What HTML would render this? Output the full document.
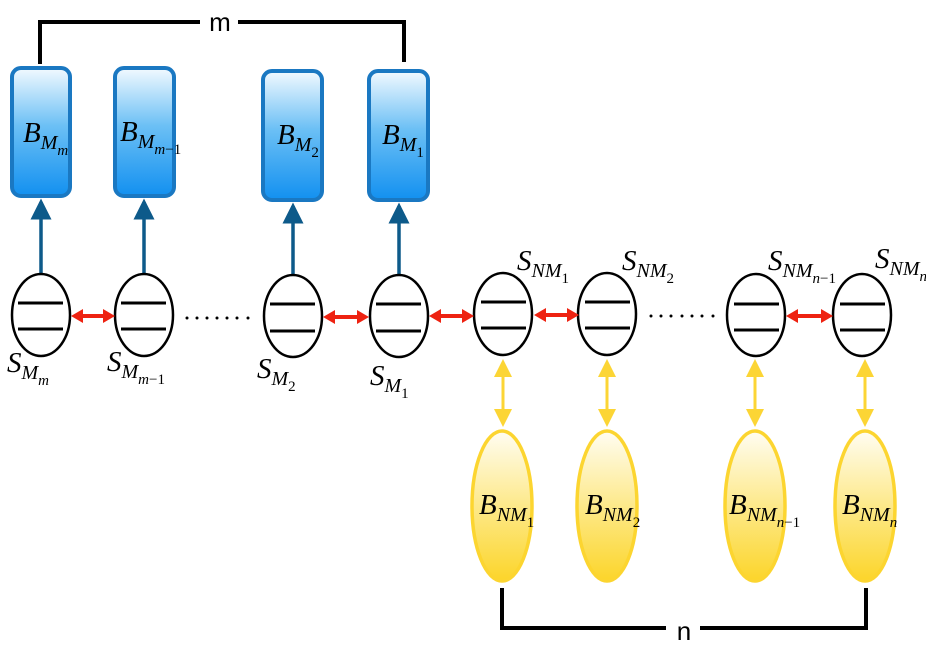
<!DOCTYPE html>
<html><head><meta charset="utf-8"><style>
html,body{margin:0;padding:0;background:#fff;}
svg{display:block;}
text{font-family:"Liberation Serif",serif;font-style:italic;fill:#000;}
.lab{font-size:29px;}
.s1{font-size:20px;}
.s2{font-size:15px;}
.up{font-style:normal;}
</style></head><body>
<svg width="926" height="654" viewBox="0 0 926 654" xmlns="http://www.w3.org/2000/svg">
<defs>
<linearGradient id="gb" x1="0" y1="0" x2="0" y2="1">
<stop offset="0" stop-color="#f2faff"/><stop offset="0.45" stop-color="#6cc0f5"/><stop offset="1" stop-color="#1290f0"/>
</linearGradient>
<linearGradient id="gy" x1="0" y1="0" x2="0" y2="1">
<stop offset="0" stop-color="#fffdf2"/><stop offset="0.5" stop-color="#fde98a"/><stop offset="1" stop-color="#fcd52a"/>
</linearGradient>
<marker id="ab" markerWidth="6" markerHeight="6" refX="5" refY="3" orient="auto" markerUnits="strokeWidth"><path d="M0,0 L6,3 L0,6z" fill="#0d5a8a"/></marker>
<marker id="ay" markerWidth="6" markerHeight="6" refX="5" refY="3" orient="auto-start-reverse" markerUnits="strokeWidth"><path d="M0,0 L6,3 L0,6z" fill="#fcd535"/></marker>
</defs>
<polyline points="40,64 40,22 200,22" fill="none" stroke="#000" stroke-width="4"/>
<polyline points="238,22 404,22 404,62" fill="none" stroke="#000" stroke-width="4"/>
<text x="220" y="31" text-anchor="middle" style="font-family:'Liberation Sans',sans-serif;font-style:normal;font-size:26px">m</text>
<polyline points="502,588 502,628 666,628" fill="none" stroke="#000" stroke-width="4"/>
<polyline points="700,628 866,628 866,588" fill="none" stroke="#000" stroke-width="4"/>
<text x="684" y="640" text-anchor="middle" style="font-family:'Liberation Sans',sans-serif;font-style:normal;font-size:26px">n</text>
<g stroke="#1a78c2" stroke-width="4" fill="url(#gb)">
<rect x="12" y="68" width="58" height="128" rx="9"/>
<rect x="115" y="68" width="59" height="128" rx="9"/>
<rect x="263" y="71" width="59" height="129" rx="9"/>
<rect x="369" y="71" width="59" height="129" rx="9"/>
</g>
<g stroke="#0d5a8a" stroke-width="3.5" marker-end="url(#ab)">
<line x1="41" y1="275" x2="41" y2="202"/>
<line x1="144" y1="275" x2="144" y2="202"/>
<line x1="293" y1="276" x2="293" y2="206"/>
<line x1="399" y1="276" x2="399" y2="206"/>
</g>
<g stroke="#000" stroke-width="2.5" fill="#fff">
<ellipse cx="41" cy="315" rx="29" ry="41"/>
<ellipse cx="144" cy="315" rx="29" ry="41"/>
<ellipse cx="293" cy="316" rx="29" ry="41"/>
<ellipse cx="399" cy="316" rx="29" ry="41"/>
<ellipse cx="503" cy="314" rx="29" ry="41"/>
<ellipse cx="607" cy="314" rx="29" ry="41"/>
<ellipse cx="756" cy="315" rx="29" ry="41"/>
<ellipse cx="862" cy="315" rx="29" ry="41"/>
</g>
<g stroke="#000" stroke-width="3">
<path d="M18,303h45M18,329h45 M121,303h45M121,329h45 M270,304h45M270,331h45 M376,304h45M376,331h45 M481,302h45M481,328h45 M585,302h45M585,328h45 M734,304h45M734,330h45 M840,304h45M840,330h45"/>
</g>
<g stroke="#ee2211" stroke-width="4">
<line x1="80" y1="316" x2="105" y2="316"/>
<line x1="332" y1="317" x2="359" y2="317"/>
<line x1="438" y1="316" x2="464" y2="316"/>
<line x1="543" y1="315" x2="569" y2="315"/>
<line x1="795" y1="316" x2="823" y2="316"/>
</g>
<g fill="#ee2211">
<path d="M71,316l12,-7v14z M115,316l-12,-7v14z"/>
<path d="M323,317l12,-7v14z M369,317l-12,-7v14z"/>
<path d="M429,316l12,-7v14z M474,316l-12,-7v14z"/>
<path d="M534,315l12,-7v14z M579,315l-12,-7v14z"/>
<path d="M786,316l12,-7v14z M833,316l-12,-7v14z"/>
</g>
<g fill="#000">
<circle cx="187" cy="318" r="1.5"/><circle cx="197" cy="318" r="1.5"/><circle cx="207" cy="318" r="1.5"/><circle cx="217" cy="318" r="1.5"/><circle cx="227" cy="318" r="1.5"/><circle cx="237" cy="318" r="1.5"/><circle cx="248" cy="318" r="1.5"/>
<circle cx="651" cy="316" r="1.5"/><circle cx="661" cy="316" r="1.5"/><circle cx="671" cy="316" r="1.5"/><circle cx="682" cy="316" r="1.5"/><circle cx="692" cy="316" r="1.5"/><circle cx="702" cy="316" r="1.5"/><circle cx="713" cy="316" r="1.5"/>
</g>
<g stroke="#fcd535" stroke-width="3" marker-start="url(#ay)" marker-end="url(#ay)">
<line x1="503" y1="362" x2="503" y2="424"/>
<line x1="607" y1="362" x2="607" y2="424"/>
<line x1="755" y1="362" x2="755" y2="424"/>
<line x1="865" y1="362" x2="865" y2="424"/>
</g>
<g stroke="#fcd530" stroke-width="3.5" fill="url(#gy)">
<ellipse cx="502" cy="506" rx="30" ry="75"/>
<ellipse cx="607" cy="506" rx="30" ry="75"/>
<ellipse cx="755" cy="506" rx="30" ry="75"/>
<ellipse cx="865" cy="506" rx="30" ry="75"/>
</g>
<text class="lab" x="23" y="142">B<tspan class="s1" dy="7">M</tspan><tspan class="s2" dy="6">m</tspan></text>
<text class="lab" x="120" y="141">B<tspan class="s1" dy="7">M</tspan><tspan class="s2" dy="6">m</tspan><tspan class="s2 up">−1</tspan></text>
<text class="lab" x="277" y="144">B<tspan class="s1" dy="7">M</tspan><tspan class="s2 up" dy="6">2</tspan></text>
<text class="lab" x="382" y="144">B<tspan class="s1" dy="7">M</tspan><tspan class="s2 up" dy="6">1</tspan></text>
<text class="lab" x="479" y="514">B<tspan class="s1" dy="7">NM</tspan><tspan class="s2 up" dy="6">1</tspan></text>
<text class="lab" x="585" y="514">B<tspan class="s1" dy="7">NM</tspan><tspan class="s2 up" dy="6">2</tspan></text>
<text class="lab" x="729" y="514">B<tspan class="s1" dy="7">NM</tspan><tspan class="s2" dy="6">n</tspan><tspan class="s2 up">−1</tspan></text>
<text class="lab" x="842" y="514">B<tspan class="s1" dy="7">NM</tspan><tspan class="s2" dy="6">n</tspan></text>
<text class="lab" x="7" y="372">S<tspan class="s1" dy="7">M</tspan><tspan class="s2" dy="6">m</tspan></text>
<text class="lab" x="107" y="371">S<tspan class="s1" dy="7">M</tspan><tspan class="s2" dy="6">m</tspan><tspan class="s2 up">−1</tspan></text>
<text class="lab" x="257" y="378">S<tspan class="s1" dy="7">M</tspan><tspan class="s2 up" dy="6">2</tspan></text>
<text class="lab" x="370" y="385">S<tspan class="s1" dy="7">M</tspan><tspan class="s2 up" dy="6">1</tspan></text>
<text class="lab" x="517" y="270">S<tspan class="s1" dy="7">NM</tspan><tspan class="s2 up" dy="6">1</tspan></text>
<text class="lab" x="622" y="270">S<tspan class="s1" dy="7">NM</tspan><tspan class="s2 up" dy="6">2</tspan></text>
<text class="lab" x="768" y="270">S<tspan class="s1" dy="7">NM</tspan><tspan class="s2" dy="6">n</tspan><tspan class="s2 up">−1</tspan></text>
<text class="lab" x="875" y="268">S<tspan class="s1" dy="7">NM</tspan><tspan class="s2" dy="6">n</tspan></text>
</svg>
</body></html>
